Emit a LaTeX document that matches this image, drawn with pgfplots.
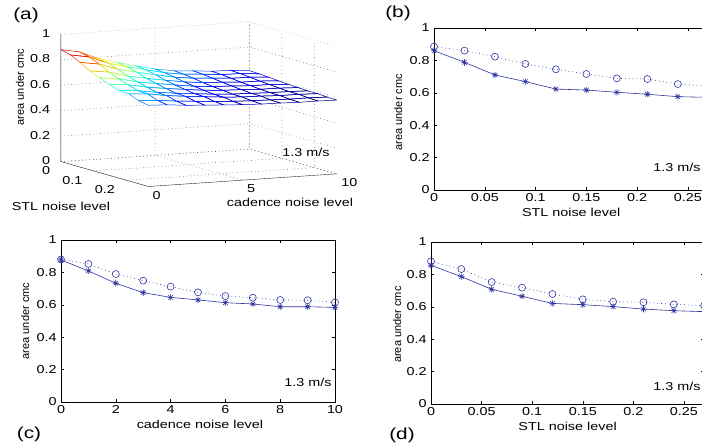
\documentclass[border=0pt]{standalone}
\usepackage{pgfplots}
\usepackage{pgfplotstable}
\usepackage{fontspec}
\setmainfont{Liberation Sans}
\pgfplotsset{compat=1.18}

\definecolor{mblue}{RGB}{45,50,160}
\newcommand\tf{\fontsize{11.5}{13}\selectfont}
\newcommand\rf{\fontsize{11}{13}\selectfont}

% matlab style '*' marker: plus and cross
\pgfdeclareplotmark{mstar}{%
  \pgfpathmoveto{\pgfqpoint{-\pgfplotmarksize}{0pt}}%
  \pgfpathlineto{\pgfqpoint{\pgfplotmarksize}{0pt}}%
  \pgfpathmoveto{\pgfqpoint{0pt}{-\pgfplotmarksize}}%
  \pgfpathlineto{\pgfqpoint{0pt}{\pgfplotmarksize}}%
  \pgfpathmoveto{\pgfqpoint{-0.707\pgfplotmarksize}{-0.707\pgfplotmarksize}}%
  \pgfpathlineto{\pgfqpoint{0.707\pgfplotmarksize}{0.707\pgfplotmarksize}}%
  \pgfpathmoveto{\pgfqpoint{-0.707\pgfplotmarksize}{0.707\pgfplotmarksize}}%
  \pgfpathlineto{\pgfqpoint{0.707\pgfplotmarksize}{-0.707\pgfplotmarksize}}%
  \pgfusepathqstroke}

% surface: cadence c, STL s, area under cmc z
\pgfplotstableread[row sep=\\]{
c s z\\
0 0 0.880\\ 1 0 0.852\\ 2 0 0.790\\ 3 0 0.749\\ 4 0 0.712\\ 5 0 0.677\\ 6 0 0.654\\ 7 0 0.644\\ 8 0 0.630\\ 9 0 0.628\\ 10 0 0.615\\
0 0.03 0.860\\ 1 0.03 0.834\\ 2 0.03 0.776\\ 3 0.03 0.737\\ 4 0.03 0.703\\ 5 0.03 0.670\\ 6 0.03 0.649\\ 7 0.03 0.639\\ 8 0.03 0.626\\ 9 0.03 0.624\\ 10 0.03 0.612\\
0 0.06 0.823\\ 1 0.06 0.800\\ 2 0.06 0.750\\ 3 0.06 0.716\\ 4 0.06 0.686\\ 5 0.06 0.657\\ 6 0.06 0.639\\ 7 0.06 0.630\\ 8 0.06 0.619\\ 9 0.06 0.617\\ 10 0.06 0.607\\
0 0.09 0.778\\ 1 0.09 0.759\\ 2 0.09 0.718\\ 3 0.09 0.690\\ 4 0.09 0.665\\ 5 0.09 0.642\\ 6 0.09 0.626\\ 7 0.09 0.620\\ 8 0.09 0.610\\ 9 0.09 0.609\\ 10 0.09 0.600\\
0 0.12 0.745\\ 1 0.12 0.729\\ 2 0.12 0.694\\ 3 0.12 0.671\\ 4 0.12 0.650\\ 5 0.12 0.630\\ 6 0.12 0.617\\ 7 0.12 0.612\\ 8 0.12 0.604\\ 9 0.12 0.603\\ 10 0.12 0.595\\
0 0.15 0.716\\ 1 0.15 0.703\\ 2 0.15 0.674\\ 3 0.15 0.654\\ 4 0.15 0.637\\ 5 0.15 0.620\\ 6 0.15 0.610\\ 7 0.15 0.605\\ 8 0.15 0.598\\ 9 0.15 0.597\\ 10 0.15 0.591\\
0 0.18 0.689\\ 1 0.18 0.678\\ 2 0.18 0.655\\ 3 0.18 0.639\\ 4 0.18 0.625\\ 5 0.18 0.611\\ 6 0.18 0.602\\ 7 0.18 0.598\\ 8 0.18 0.593\\ 9 0.18 0.592\\ 10 0.18 0.587\\
0 0.21 0.685\\ 1 0.21 0.675\\ 2 0.21 0.652\\ 3 0.21 0.636\\ 4 0.21 0.623\\ 5 0.21 0.610\\ 6 0.21 0.601\\ 7 0.21 0.598\\ 8 0.21 0.592\\ 9 0.21 0.592\\ 10 0.21 0.587\\
0 0.24 0.654\\ 1 0.24 0.646\\ 2 0.24 0.630\\ 3 0.24 0.619\\ 4 0.24 0.609\\ 5 0.24 0.599\\ 6 0.24 0.593\\ 7 0.24 0.590\\ 8 0.24 0.586\\ 9 0.24 0.586\\ 10 0.24 0.582\\
0 0.27 0.639\\ 1 0.27 0.633\\ 2 0.27 0.619\\ 3 0.27 0.610\\ 4 0.27 0.602\\ 5 0.27 0.594\\ 6 0.27 0.589\\ 7 0.27 0.587\\ 8 0.27 0.583\\ 9 0.27 0.583\\ 10 0.27 0.580\\
}\surfdata

\pgfplotstableread{
s star circ
0    0.860 0.885
0.03 0.788 0.860
0.06 0.710 0.823
0.09 0.669 0.778
0.12 0.623 0.745
0.15 0.617 0.716
0.18 0.603 0.689
0.21 0.591 0.685
0.24 0.576 0.654
0.27 0.572 0.639
}\stlB

\pgfplotstableread{
c star circ
0  0.877 0.880
1  0.809 0.852
2  0.733 0.790
3  0.675 0.749
4  0.646 0.712
5  0.630 0.677
6  0.613 0.654
7  0.605 0.644
8  0.588 0.630
9  0.588 0.628
10 0.584 0.615
}\cadC

\pgfplotstableread{
s star circ
0    0.856 0.881
0.03 0.786 0.833
0.06 0.708 0.753
0.09 0.665 0.718
0.12 0.621 0.679
0.15 0.613 0.646
0.18 0.601 0.632
0.21 0.586 0.628
0.24 0.576 0.615
0.27 0.570 0.608
}\stlD

\pgfplotsset{
  flat/.style={
    scale only axis, height=162pt,
    ymin=0, ymax=1, ytick={0,0.2,0.4,0.6,0.8,1},
    yticklabels={0,0.2,0.4,0.6,0.8,1},
    tick align=inside, major tick length=3pt,
    axis line style={line width=0.7pt},
    tick style={black, line width=0.5pt},
    ticklabel style={font=\tf, xscale=1.25},
    xlabel style={font=\tf, xscale=1.25},
    ylabel style={font=\rf},
  },
  starline/.style={mblue, line width=0.6pt, mark=mstar, mark size=3.2pt},
  circline/.style={mblue, line width=0.6pt, dash pattern=on 0.8pt off 3pt,
    mark=o, mark size=3.5pt, mark options={solid}},
}
\tikzset{grid3/.style={black!70, line width=0.5pt, dash pattern=on 0.6pt off 3pt}}

\begin{document}
\begin{tikzpicture}
\path[use as bounding box] (0pt,0pt) rectangle (702pt,447pt);

% (a) surface
\begin{axis}[
  at={(60.7pt,285.3pt)}, anchor=origin,
  x={(18.87pt,1.27pt)}, y={(324.4pt,-92.6pt)}, z={(0pt,127.4pt)},
  xmin=0, xmax=10, ymin=0, ymax=0.27, zmin=0, zmax=1,
  xtick={0,5,10}, xticklabels={0,5,10},
  ytick={0,0.1,0.2}, yticklabels={0,0.1,0.2},
  ztick={0,0.2,0.4,0.6,0.8,1}, zticklabels={0,0.2,0.4,0.6,0.8,1},
  axis line style={draw=none},
  major tick length=0pt,
  ticklabel style={font=\tf, xscale=1.25},
  xticklabel style={anchor=north west, xshift=0pt, yshift=-1pt},
  yticklabel style={anchor=north east, xshift=-5pt, yshift=-1.5pt},
  zticklabel style={anchor=east, xshift=-5pt, yshift=1pt},
  colormap/jet,
]
% dotted grid on the back walls and the floor
\pgfplotsinvokeforeach{0,0.2,0.4,0.6,0.8,1}{
  \draw[grid3] (axis cs:0,0,#1) -- (axis cs:10,0,#1) -- (axis cs:10,0.27,#1);
}
\pgfplotsinvokeforeach{0,5,10}{
  \draw[grid3] (axis cs:#1,0,1) -- (axis cs:#1,0,0) -- (axis cs:#1,0.27,0);
}
\pgfplotsinvokeforeach{0,0.1,0.2}{
  \draw[grid3] (axis cs:0,#1,0) -- (axis cs:10,#1,0) -- (axis cs:10,#1,1);
}
\addplot3[surf, mesh/cols=11, shader=flat, draw=none,
  colormap={whitemap}{color=(white) color=(white)}]
  table[x=c, y=s, z=z] {\surfdata};
\addplot3[mesh, mesh/cols=11, line width=0.5pt] table[x=c, y=s, z=z] {\surfdata};
\draw[black!85, line width=0.8pt] (axis cs:0,0,1) -- (axis cs:0,0,0)
  -- (axis cs:0,0.27,0) -- (axis cs:10,0.27,0);
\end{axis}

% (b)
\begin{axis}[flat, at={(434pt,257pt)}, anchor=south west, width=274.3pt,
  xmin=0, xmax=0.27, xtick={0,0.05,0.1,0.15,0.2,0.25},
  xticklabels={0,0.05,0.1,0.15,0.2,0.25},
  xlabel={STL noise level}, ylabel={area under cmc},
  xlabel style={at={(axis description cs:0.5,-0.14)}, anchor=center},
  ylabel style={at={(axis description cs:-0.131,0.48)}, anchor=center},
]
\addplot[circline] table[x=s, y=circ] {\stlB};
\addplot[starline] table[x=s, y=star] {\stlB};
\end{axis}

% (c)
\begin{axis}[flat, at={(61pt,45pt)}, anchor=south west, width=274pt,
  xmin=0, xmax=10, xtick={0,2,4,6,8,10}, xticklabels={0,2,4,6,8,10},
  xlabel={cadence noise level}, ylabel={area under cmc},
  xlabel style={at={(axis description cs:0.507,-0.14)}, anchor=center},
  ylabel style={at={(axis description cs:-0.131,0.5)}, anchor=center},
]
\addplot[circline] table[x=c, y=circ] {\cadC};
\addplot[starline] table[x=c, y=star] {\cadC};
\end{axis}

% (d)
\begin{axis}[flat, at={(431pt,43pt)}, anchor=south west, width=273.2pt,
  xmin=0, xmax=0.27, xtick={0,0.05,0.1,0.15,0.2,0.25},
  xticklabels={0,0.05,0.1,0.15,0.2,0.25},
  xlabel={STL noise level}, ylabel={area under cmc},
  xlabel style={at={(axis description cs:0.5,-0.14)}, anchor=center},
  ylabel style={at={(axis description cs:-0.124,0.49)}, anchor=center},
]
\addplot[circline] table[x=s, y=circ] {\stlD};
\addplot[starline] table[x=s, y=star] {\stlD};
\end{axis}

% labels of panel (a) and panel letters
\node[font=\rf, rotate=90] at (20pt,360pt) {area under cmc};
\node[font=\tf, xscale=1.25] at (61pt,241pt) {STL noise level};
\node[font=\tf, xscale=1.25] at (290pt,244.5pt) {cadence noise level};
\foreach \p/\x/\y in {306/294.5, 677/280, 308/65, 677/61}
  \node[font=\tf, xscale=1.25] at (\p pt,\x pt) {1.3 m/s};
\node[font=\fontsize{16}{18}\selectfont, xscale=1.3] at (26pt,432pt) {(a)};
\node[font=\fontsize{16}{18}\selectfont, xscale=1.3] at (398pt,434pt) {(b)};
\node[font=\fontsize{16}{18}\selectfont, xscale=1.3] at (29pt,13pt) {(c)};
\node[font=\fontsize{16}{18}\selectfont, xscale=1.3] at (402pt,12pt) {(d)};
\end{tikzpicture}
\end{document}
